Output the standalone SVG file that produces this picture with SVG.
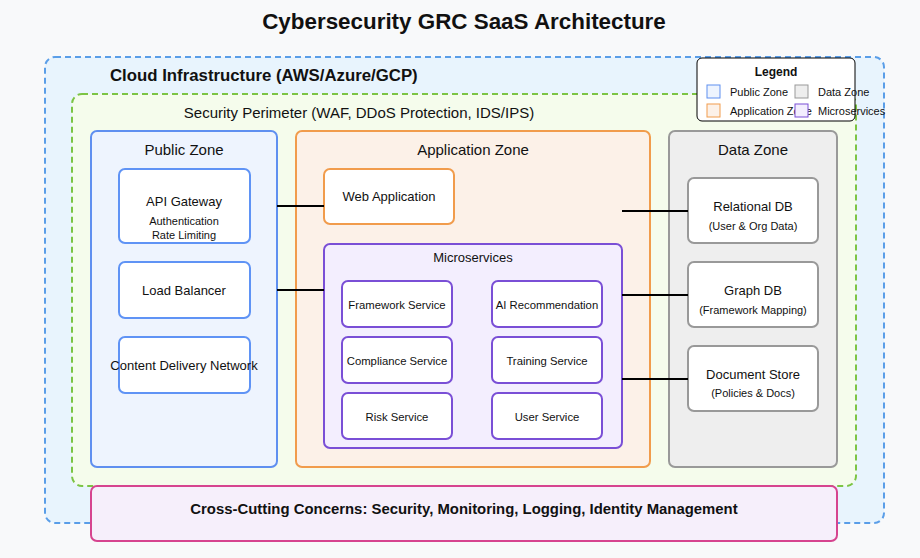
<svg xmlns="http://www.w3.org/2000/svg" width="920" height="558" viewBox="0 0 920 558">
<style>
text{font-family:"Liberation Sans",Arial,sans-serif;fill:#111;}
.c{text-anchor:middle;}
.zone{stroke-width:2;}
.pub{fill:#eef4fe;stroke:#5f8ff0;}
.app{fill:#fcf1e8;stroke:#f19c4c;}
.ms{fill:#f3eefe;stroke:#7a4fd6;}
.data{fill:#eeeeee;stroke:#999999;}
.node{fill:#ffffff;stroke-width:2;}
.n-pub{stroke:#5f93f5;}
.n-app{stroke:#f19c4c;}
.n-ms{stroke:#7a4fd6;}
.n-data{stroke:#999999;}
.t13{font-size:13px;}
.t11{font-size:11px;}
.t11s{font-size:11.3px;}
.t15{font-size:15px;}
.conn line{stroke:#000;stroke-width:2;}
</style>
<rect width="920" height="558" fill="#f8f9fa"/>
<text x="464" y="29" class="c" font-size="22.4" font-weight="bold">Cybersecurity GRC SaaS Architecture</text>

<g id="cloud">
<rect x="45" y="57" width="839" height="466" rx="10" fill="#e8f4fd" stroke="#5a9ee8" stroke-width="2" stroke-dasharray="6,4"/>
<text x="110" y="81" font-size="16.8" font-weight="bold">Cloud Infrastructure (AWS/Azure/GCP)</text>
</g>

<g id="perimeter">
<rect x="72" y="94" width="784" height="392" rx="10" fill="#f5fcec" stroke="#7cc444" stroke-width="2" stroke-dasharray="6,4"/>
<text x="359" y="118" class="c t15">Security Perimeter (WAF, DDoS Protection, IDS/IPS)</text>
</g>

<g id="public-zone">
<rect x="91" y="131" width="186" height="336" rx="6" class="zone pub"/>
<text x="184" y="155" class="c t15">Public Zone</text>
</g>
<g id="api-gateway">
<rect x="119" y="169" width="131" height="74" rx="6" class="node n-pub"/>
<text x="184" y="206" class="c t13">API Gateway</text>
<text x="184" y="225" class="c t11">Authentication</text>
<text x="184" y="239" class="c t11">Rate Limiting</text>
</g>
<g id="load-balancer">
<rect x="119" y="262" width="131" height="56" rx="6" class="node n-pub"/>
<text x="184" y="295" class="c t13">Load Balancer</text>
</g>
<g id="cdn">
<rect x="119" y="337" width="131" height="56" rx="6" class="node n-pub"/>
<text x="184" y="370" class="c t13">Content Delivery Network</text>
</g>

<g id="application-zone">
<rect x="296" y="131" width="354" height="336" rx="6" class="zone app"/>
<text x="473" y="155" class="c t15">Application Zone</text>
</g>
<g id="web-app">
<rect x="324" y="169" width="130" height="55" rx="6" class="node n-app"/>
<text x="389" y="201" class="c t13">Web Application</text>
</g>
<g id="microservices">
<rect x="324" y="244" width="298" height="204" rx="6" class="zone ms"/>
<text x="473" y="262" class="c t13">Microservices</text>
</g>
<g id="framework-service">
<rect x="342" y="281" width="110" height="46" rx="6" class="node n-ms"/>
<text x="397" y="309" class="c t11s">Framework Service</text>
</g>
<g id="ai-recommendation">
<rect x="492" y="281" width="110" height="46" rx="6" class="node n-ms"/>
<text x="547" y="309" class="c t11s">AI Recommendation</text>
</g>
<g id="compliance-service">
<rect x="342" y="337" width="110" height="46" rx="6" class="node n-ms"/>
<text x="397" y="365" class="c t11s">Compliance Service</text>
</g>
<g id="training-service">
<rect x="492" y="337" width="110" height="46" rx="6" class="node n-ms"/>
<text x="547" y="365" class="c t11s">Training Service</text>
</g>
<g id="risk-service">
<rect x="342" y="393" width="110" height="46" rx="6" class="node n-ms"/>
<text x="397" y="421" class="c t11s">Risk Service</text>
</g>
<g id="user-service">
<rect x="492" y="393" width="110" height="46" rx="6" class="node n-ms"/>
<text x="547" y="421" class="c t11s">User Service</text>
</g>

<g id="data-zone">
<rect x="669" y="131" width="168" height="336" rx="6" class="zone data"/>
<text x="753" y="155" class="c t15">Data Zone</text>
</g>
<g id="relational-db">
<rect x="688" y="178" width="130" height="65" rx="6" class="node n-data"/>
<text x="753" y="211" class="c t13">Relational DB</text>
<text x="753" y="230" class="c t11">(User &amp; Org Data)</text>
</g>
<g id="graph-db">
<rect x="688" y="262" width="130" height="65" rx="6" class="node n-data"/>
<text x="753" y="295" class="c t13">Graph DB</text>
<text x="753" y="314" class="c t11">(Framework Mapping)</text>
</g>
<g id="document-store">
<rect x="688" y="346" width="130" height="65" rx="6" class="node n-data"/>
<text x="753" y="379" class="c t13">Document Store</text>
<text x="753" y="397" class="c t11">(Policies &amp; Docs)</text>
</g>

<g id="connectors" class="conn">
<line x1="277" y1="206" x2="324" y2="206"/>
<line x1="277" y1="290" x2="324" y2="290"/>
<line x1="622" y1="211" x2="688" y2="211"/>
<line x1="622" y1="295" x2="688" y2="295"/>
<line x1="622" y1="379" x2="688" y2="379"/>
</g>

<g id="cross-cutting">
<rect x="91" y="486" width="746" height="55" rx="6" fill="#f6effb" stroke="#d6448f" stroke-width="2"/>
<text x="464" y="514" class="c" font-size="14.9" font-weight="bold">Cross-Cutting Concerns: Security, Monitoring, Logging, Identity Management</text>
</g>

<g id="legend">
<rect x="697" y="58" width="158" height="63" rx="5" fill="#ffffff" stroke="#000" stroke-width="1"/>
<text x="776" y="76" class="c" font-size="12" font-weight="bold">Legend</text>
<rect x="707" y="85" width="13" height="13" fill="#eef4fe" stroke="#5f8ff0"/>
<text x="730" y="96" class="t11">Public Zone</text>
<rect x="707" y="104" width="13" height="13" fill="#fcf1e8" stroke="#f19c4c"/>
<text x="730" y="115" class="t11">Application Zone</text>
<rect x="795" y="85" width="13" height="13" fill="#eeeeee" stroke="#999999"/>
<text x="818" y="96" class="t11">Data Zone</text>
<rect x="795" y="104" width="13" height="13" fill="#f3eefe" stroke="#7a4fd6"/>
<text x="818" y="115" class="t11">Microservices</text>
</g>
</svg>
